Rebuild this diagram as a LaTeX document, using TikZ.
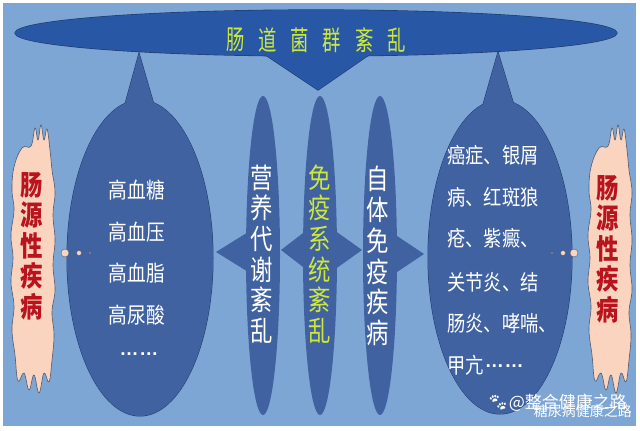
\documentclass[tikz,border=0pt]{standalone}
\usepackage{fontspec}
\setmainfont{Noto Sans CJK SC}
\newfontfamily\cjkA[FakeStretch=0.85]{Noto Sans CJK SC}
\newfontfamily\cjkV[FakeStretch=0.8]{Noto Sans CJK SC}
\newfontfamily\cjkT[FakeStretch=0.68]{Noto Sans CJK SC}
\newfontfamily\latdots{Liberation Sans}
\newfontfamily\emo{Noto Emoji}
\definecolor{bgblue}{RGB}{126,166,212}
\definecolor{darkblue}{RGB}{64,98,160}
\definecolor{topblue}{RGB}{40,88,165}
\definecolor{edgeblue}{RGB}{32,58,110}
\definecolor{peach}{RGB}{250,212,190}
\definecolor{cloudedge}{RGB}{80,90,110}
\definecolor{lime}{RGB}{205,232,55}
\definecolor{dred}{RGB}{185,20,30}
\newcommand\middots{\raisebox{0.27em}{\latdots\bfseries\fontsize{19}{19}\selectfont …\hspace{1pt}…}}
\tikzset{
  ttl/.style={text=lime, font=\cjkT\fontsize{27}{27}\selectfont, inner sep=0},
  ltxt/.style={text=white, font=\cjkA\fontsize{22}{22}\selectfont, inner sep=0},
  rtxt/.style={text=white, font=\cjkA\fontsize{21.5}{21.5}\selectfont, inner sep=0, anchor=west},
  vtxt/.style={text=white, font=\cjkV\fontsize{28}{30.7}\selectfont, align=center, inner sep=0},
  ctxt/.style={text=dred, font=\cjkV\bfseries\fontsize{28}{30.6}\selectfont, align=center, inner sep=0},
  bubble/.style={fill=peach, draw=cloudedge, line width=0.4pt},
  cloudpic/.pic={
    \filldraw[fill=peach, draw=cloudedge, line width=0.6pt] plot[smooth cycle, tension=0.7] coordinates {
      (31,146) (35,128) (38,140) (41,125) (44,140) (47,129) (50,150) (52,170) (55,192) (53,215)
      (55,240) (53,265) (55,290) (52,312) (54,335) (52,360) (49,382) (44,373) (39,393) (34,375)
      (29,390) (24,373) (18,381) (15,355) (12,330) (14,306) (11,282) (13,258) (11,235) (14,210)
      (12,190) (14,167) (22,148)};
  },
}
\begin{document}
\begin{tikzpicture}[x=1pt,y=-1pt]
\useasboundingbox (0,0) rectangle (640,431);
\fill[white] (0,0) rectangle (640,431);
\fill[bgblue] (3,3) rectangle (636,426);

% top ellipse with pointer
\draw[edgeblue, line width=1.2pt] (316,33) ellipse [x radius=301, y radius=23];
\draw[edgeblue, line width=1.2pt] (258,50) -- (318,90) -- (376,50);
\fill[topblue] (316,33) ellipse [x radius=301, y radius=23];
\fill[topblue] (258,50) -- (318,90) -- (376,50) -- cycle;

% left big ellipse with spike
\draw[edgeblue, line width=1pt] (140,258) ellipse [x radius=73, y radius=158];
\draw[edgeblue, line width=1pt] (122,115) -- (139,53) -- (157,115);
\fill[darkblue] (140,258) ellipse [x radius=73, y radius=158];
\fill[darkblue] (122,115) -- (139,53) -- (157,115) -- cycle;

% right big ellipse with spike
\draw[edgeblue, line width=1pt] (500,257) ellipse [x radius=72, y radius=157];
\draw[edgeblue, line width=1pt] (480,115) -- (498,52) -- (517,115);
\fill[darkblue] (500,257) ellipse [x radius=72, y radius=157];
\fill[darkblue] (480,115) -- (498,52) -- (517,115) -- cycle;

% narrow ellipses with arrows
\fill[darkblue] (263,255.5) ellipse [x radius=17, y radius=159.5];
\fill[darkblue] (216,252) -- (258,226) -- (258,278) -- cycle;
\fill[darkblue] (320,255.5) ellipse [x radius=17, y radius=159.5];
\fill[darkblue] (281,250) -- (320,220) -- (362,250) -- (320,280) -- cycle;
\fill[darkblue] (380,255.5) ellipse [x radius=17, y radius=159.5];
\fill[darkblue] (424,254) -- (385,228) -- (385,280) -- cycle;

% title
\foreach \c [count=\i] in {肠,道,菌,群,紊,乱}
  \node[ttl] (t\i) at ({235.5+32.2*(\i-1)},40) {\c};

% left ellipse text
\node[ltxt] (l1) at (137,190) {高血糖};
\node[ltxt] (l2) at (137,232) {高血压};
\node[ltxt] (l3) at (137,273) {高血脂};
\node[ltxt] (l4) at (137,315) {高尿酸};
\node[ltxt] (l5) at (139,357) {\middots};

% right ellipse text
\node[rtxt] (r1) at (447,155) {癌症、银屑};
\node[rtxt] (r2) at (447,197) {病、红斑狼};
\node[rtxt] (r3) at (447,238) {疮、紫癜、};
\node[rtxt] (r4) at (447,282) {关节炎、结};
\node[rtxt] (r5) at (447,323) {肠炎、哮喘、};
\node[rtxt] (r6) at (447,365) {甲亢\hspace{1pt}\middots};

% vertical texts
\node[vtxt] (v1) at (262,254) {营\\养\\代\\谢\\紊\\乱};
\node[vtxt, text=lime] (v2) at (320,254) {免\\疫\\系\\统\\紊\\乱};
\node[vtxt] (v3) at (378,256) {自\\体\\免\\疫\\疾\\病};

% clouds
\pic at (0,0) {cloudpic};
\pic at (577,0) {cloudpic};
\node[ctxt] (cltxt) at (32,246) {肠\\源\\性\\疾\\病};
\node[ctxt] (crtxt) at (608,249) {肠\\源\\性\\疾\\病};

% thought bubbles
\filldraw[bubble] (65,253) circle[radius=4];
\filldraw[bubble] (79,253) circle[radius=2.5];
\filldraw[bubble] (90,253) circle[radius=1.2];
\filldraw[bubble] (574,253) circle[radius=4];
\filldraw[bubble] (563,253) circle[radius=2.5];
\filldraw[bubble] (552,253) circle[radius=1.2];

% watermark
\node[text=white, anchor=west, inner sep=0, font=\fontsize{17}{17}\selectfont] (w1) at (487,403) {{\emo 🐾}@整合健康之路};
\node[text=white, anchor=east, inner sep=0, font=\fontsize{14}{14}\selectfont] (w2) at (632,411) {糖尿病健康之路};
\end{tikzpicture}
\end{document}
